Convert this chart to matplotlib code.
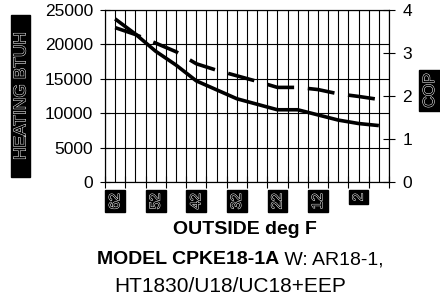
import numpy as np
import matplotlib
matplotlib.use('Agg')
import matplotlib.pyplot as plt
import matplotlib.patheffects as pe
from matplotlib.patches import Rectangle

plt.rcParams['font.family'] = ['Liberation Sans', 'DejaVu Sans']

# values
outside_temp = ['62', '57', '52', '47', '42', '37', '32', '27', '22', '17', '12', '7', '2', '-3']
heating_btuh = [23700, 21500, 19000, 17000, 14700, 13400, 12100, 11300, 10500, 10500, 9750, 9000, 8500, 8200]
cop = [3.59, 3.43, 3.23, 3.03, 2.75, 2.60, 2.47, 2.34, 2.20, 2.20, 2.15, 2.05, 1.99, 1.92]
heat_ticks = [0, 5000, 10000, 15000, 20000, 25000]
cop_ticks = [0, 1, 2, 3, 4]

W, H = 440, 305
fig = plt.figure(figsize=(W / 100, H / 100), dpi=100)
ax = fig.add_axes([105 / W, 1 - 182 / H, 284 / W, 172 / H])

x = np.arange(len(outside_temp))
outline = [pe.withStroke(linewidth=0.7, foreground='white')]

# grid: vertical lines every half category, horizontal every 5000
for gx in np.arange(-0.5, len(x), 0.5):
    ax.axvline(gx, color='black', lw=0.8, zorder=1)
ax.set_ylim(0, 25000)
ax.set_yticks(heat_ticks)
ax.yaxis.grid(True, color='black', lw=0.8)
ax.set_axisbelow(True)
ax.set_xlim(-0.5, len(x) - 0.5)

ax.set_xticks(np.arange(-0.5, len(x), 1))
ax.set_xticklabels([])
ax.set_xticks(x[::2], outside_temp[::2], minor=True)
ax.tick_params(axis='x', which='major', direction='inout', length=8, width=0.8)
ax.tick_params(axis='x', which='minor', length=0, pad=8)
for lbl in ax.get_xticklabels(minor=True):
    lbl.set_rotation(90)
    lbl.set_fontsize(10.5)
    lbl.set_color('black')
    lbl.set_bbox(dict(boxstyle='square,pad=0.2', fc='black', ec='black'))
    lbl.set_path_effects(outline)

ax.tick_params(axis='y', direction='inout', length=7, width=0.8, labelsize=12.5, pad=5)
for s in ax.spines.values():
    s.set_linewidth(0.8)

ax.plot(x, heating_btuh, color='black', lw=2.6, solid_capstyle='butt', zorder=3)

ax2 = ax.twinx()
ax2.plot(x, cop, color='black', lw=2.6, dashes=(7.5, 3.8), dash_capstyle='butt', zorder=3)
ax2.set_ylim(0, 4)
ax2.set_yticks(cop_ticks)
ax2.tick_params(axis='y', direction='inout', length=8.5, width=0.8, labelsize=12.5, pad=5.5)
for s in ax2.spines.values():
    s.set_linewidth(0.8)

# axis titles
fig.patches.append(Rectangle((11 / W, 1 - 177 / H), 19 / W, 162 / H,
                             transform=fig.transFigure, color='black'))
fig.text(21 / W, 1 - 96 / H, 'HEATING BTUH', rotation=90, ha='center', va='center',
         fontsize=12.5, color='black', path_effects=outline)
fig.text(429.5 / W, 1 - 90.5 / H, 'COP', rotation=90, ha='center', va='center',
         fontsize=11.5, color='black', path_effects=outline,
         bbox=dict(boxstyle='square,pad=0.2', fc='black', ec='black'))
fig.text(245 / W, 1 - 230 / H, 'OUTSIDE deg F', ha='center', va='center',
         fontsize=14, fontweight='bold')

# title, bold model name followed by regular text
r = fig.canvas.get_renderer()
t1 = fig.text(0, 1 - 260 / H, 'MODEL CPKE18-1A', fontsize=14, fontweight='bold', va='center')
t2 = fig.text(0, 1 - 260 / H, '\u00a0W: AR18-1,', fontsize=14, va='center')
w1 = t1.get_window_extent(r).width
w2 = t2.get_window_extent(r).width
x0 = 240 - (w1 + w2) / 2
t1.set_x(x0 / W)
t2.set_x((x0 + w1) / W)
fig.text(230 / W, 1 - 287 / H, 'HT1830/U18/UC18+EEP', fontsize=15, ha='center', va='center')

fig.savefig('out.png', dpi=100)
